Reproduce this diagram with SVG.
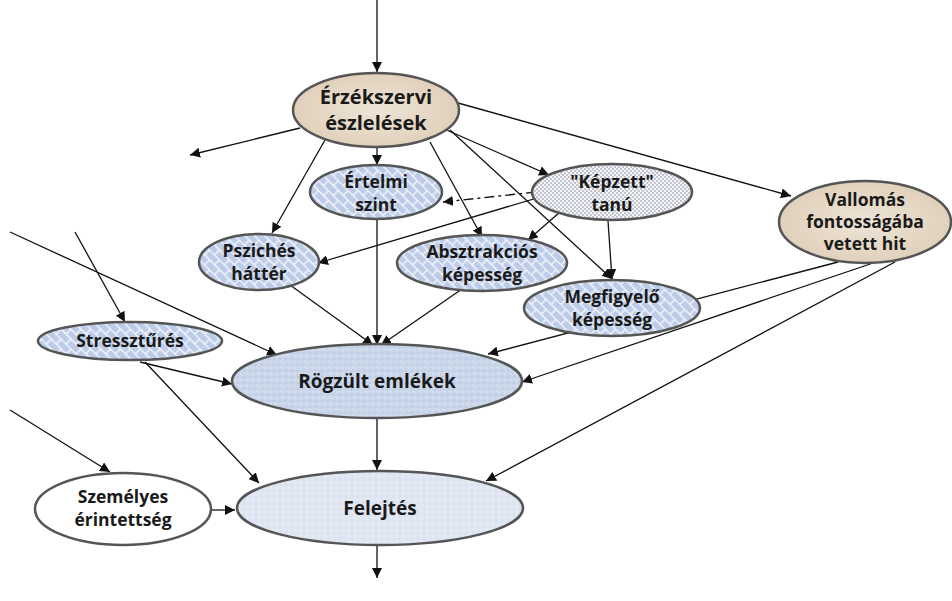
<svg xmlns="http://www.w3.org/2000/svg" width="952" height="601" viewBox="0 0 952 601">
<defs>
<pattern id="brick" width="14" height="14" patternUnits="userSpaceOnUse" patternTransform="rotate(45)">
<rect width="14" height="14" fill="#bccbe7"/>
<path d="M0 0.5H14M0 7.5H14M3 0V7M10 7V14" stroke="#f4f7fc" stroke-width="1.4"/>
</pattern>
<pattern id="dots" width="4" height="4" patternUnits="userSpaceOnUse">
<rect width="4" height="4" fill="#f4f6fa"/>
<circle cx="1" cy="1" r="0.7" fill="#6a6f80"/>
<circle cx="3" cy="3" r="0.7" fill="#6a6f80"/>
</pattern>
<pattern id="speck" width="6" height="6" patternUnits="userSpaceOnUse">
<rect width="6" height="6" fill="#c9d6ea"/>
<circle cx="1" cy="2" r="0.8" fill="#e4ebf6"/>
<circle cx="4" cy="5" r="0.8" fill="#aebfdc"/>
<circle cx="4.5" cy="1" r="0.6" fill="#e8eef8"/>
</pattern>
<pattern id="speck2" width="6" height="6" patternUnits="userSpaceOnUse">
<rect width="6" height="6" fill="#e0e7f2"/>
<circle cx="1" cy="2" r="0.8" fill="#eef2f9"/>
<circle cx="4" cy="5" r="0.8" fill="#ccd7ea"/>
</pattern>
<radialGradient id="tan" cx="0.5" cy="0.5" r="0.6">
<stop offset="0" stop-color="#eee4d6"/>
<stop offset="1" stop-color="#ddcdb6"/>
</radialGradient>
<marker id="ah" viewBox="0 0 10 10" refX="10" refY="5" markerWidth="10" markerHeight="10" markerUnits="userSpaceOnUse" orient="auto">
<path d="M0 0L10 5L0 10z" fill="#111"/>
</marker>
</defs>
<style>
.n{stroke:#555;stroke-width:2.5}
.t{font-family:"Open Sans","Liberation Sans",sans-serif;font-weight:700;font-size:17.5px;fill:#1a1a1a;text-anchor:middle}
.e{fill:none;stroke:#111;stroke-width:1.3;marker-end:url(#ah)}
</style>
<g id="connectors">
<path class="e" d="M377 0V72"/>
<path class="e" d="M300 128L190 155"/>
<path class="e" d="M377 148V165"/>
<path class="e" d="M325 140L272 233"/>
<path class="e" d="M430 142L482 237"/>
<path class="e" d="M442 128L549 175"/>
<path class="e" d="M450 130L612 279"/>
<path class="e" d="M458 103L791 196"/>
<path class="e" d="M536 192L443 202" stroke-dasharray="10 4 3 4"/>
<path class="e" d="M537 198L318 263"/>
<path class="e" d="M560 212L528 240"/>
<path class="e" d="M608 221L612 279"/>
<path class="e" d="M377 218V345"/>
<path class="e" d="M290 285L373 345"/>
<path class="e" d="M462 289L381 345"/>
<path class="e" d="M10 232L277 355"/>
<path class="e" d="M75 232L125 322"/>
<path class="e" d="M140 362L232 384"/>
<path class="e" d="M145 362L259 483"/>
<path class="e" d="M838 262L488 354"/>
<path class="e" d="M882 260L522 382"/>
<path class="e" d="M895 262L486 481"/>
<path class="e" d="M377 418V470"/>
<path class="e" d="M10 410L110 472"/>
<path class="e" d="M210 510L235 510"/>
<path class="e" d="M377 546V578"/>
</g>
<g id="n-erzekszervi">
<ellipse class="n" cx="376" cy="110" rx="83" ry="37" fill="url(#tan)"/>
<text class="t" x="376" y="104" style="font-size:20px">Érzékszervi</text>
<text class="t" x="376" y="130" style="font-size:20px">észlelések</text>
</g>
<g id="n-ertelmi">
<ellipse class="n" cx="376" cy="192" rx="66" ry="27" fill="url(#brick)"/>
<text class="t" x="376" y="188">Értelmi</text>
<text class="t" x="376" y="211">szint</text>
</g>
<g id="n-kepzett">
<ellipse class="n" cx="612" cy="192" rx="80" ry="28" fill="url(#dots)"/>
<text class="t" x="612" y="188">"Képzett"</text>
<text class="t" x="612" y="211">tanú</text>
</g>
<g id="n-psziches">
<ellipse class="n" cx="259" cy="262" rx="60" ry="28" fill="url(#brick)"/>
<text class="t" x="259" y="257">Pszichés</text>
<text class="t" x="259" y="280">háttér</text>
</g>
<g id="n-absztrakcios">
<ellipse class="n" cx="482" cy="263" rx="85" ry="28" fill="url(#brick)"/>
<text class="t" x="482" y="258">Absztrakciós</text>
<text class="t" x="482" y="281">képesség</text>
</g>
<g id="n-megfigyelo">
<ellipse class="n" cx="612" cy="308" rx="88" ry="28" fill="url(#brick)"/>
<text class="t" x="612" y="303">Megfigyelő</text>
<text class="t" x="612" y="326">képesség</text>
</g>
<g id="n-vallomas">
<ellipse class="n" cx="865" cy="222" rx="86" ry="41" fill="url(#tan)"/>
<text class="t" x="865" y="206">Vallomás</text>
<text class="t" x="865" y="228">fontosságába</text>
<text class="t" x="865" y="250">vetett hit</text>
</g>
<g id="n-stressz">
<ellipse class="n" cx="130" cy="341" rx="92" ry="19" fill="url(#brick)"/>
<text class="t" x="130" y="347">Stressztűrés</text>
</g>
<g id="n-rogzult">
<ellipse class="n" cx="377" cy="381" rx="145" ry="37" fill="url(#speck)"/>
<text class="t" x="377" y="388" style="font-size:19px">Rögzült emlékek</text>
</g>
<g id="n-szemelyes">
<ellipse class="n" cx="123" cy="509" rx="88" ry="36" fill="#fff"/>
<text class="t" x="123" y="503">Személyes</text>
<text class="t" x="123" y="526">érintettség</text>
</g>
<g id="n-felejtes">
<ellipse class="n" cx="380" cy="508" rx="143" ry="37" fill="url(#speck2)"/>
<text class="t" x="380" y="515" style="font-size:19px">Felejtés</text>
</g>
</svg>
